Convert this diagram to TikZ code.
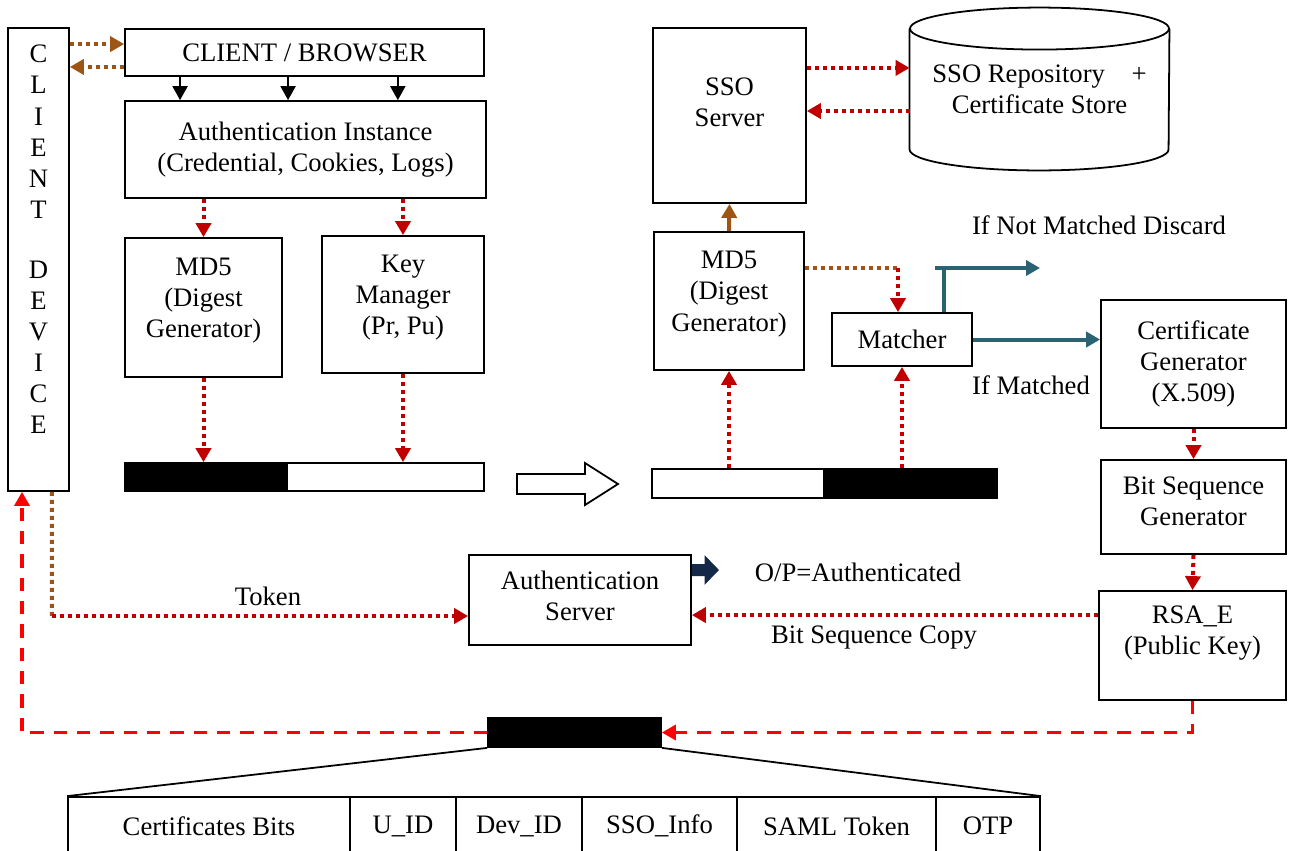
\documentclass[tikz,border=0pt]{standalone}
\usepackage{fontspec}
\setmainfont{Liberation Serif}
\usetikzlibrary{arrows.meta}

\definecolor{darkred}{RGB}{192,0,0}
\definecolor{brownish}{RGB}{158,84,20}
\definecolor{tealline}{RGB}{43,99,114}
\definecolor{navyline}{RGB}{20,40,72}

\begin{document}
\begin{tikzpicture}[x=0.45pt, y=-0.45pt, >={Triangle[length=6.3pt, width=6.8pt]},
  font=\fontsize{12}{14}\selectfont,
  box/.style={draw, thick, align=center, inner sep=0pt},
  bar/.style={draw, thick, fill=black, inner sep=0pt},
  reddot/.style={draw=darkred, line width=1.8pt, dash pattern=on 1.8pt off 1.8pt},
  browndot/.style={draw=brownish, line width=1.8pt, dash pattern=on 1.8pt off 1.8pt},
  reddash/.style={draw=red, line width=1.4pt, dash pattern=on 6pt off 4.5pt},
  tealline/.style={draw=tealline, line width=1.8pt}]

\clip (0,0) rectangle (1293,850);

\node (dev) at (38.5,259.5) [box, minimum width=27.45pt, minimum height=208.35pt] {};
\node (devtxt) at (38.5,239.5) [align=center] {C\\L\\I\\E\\N\\T\\[13pt]D\\E\\V\\I\\C\\E};

\node (browser) at (304.5,52.5) [box, minimum width=161.55pt, minimum height=21.15pt] {CLIENT / BROWSER};
\node (inst) at (305.5,149.5) [box, minimum width=162.45pt, minimum height=43.65pt] {Authentication Instance\\(Credential, Cookies, Logs)};
\node (md5a) at (203.5,307.5) [box, minimum width=70.65pt, minimum height=62.55pt, text depth=8.5pt] {MD5\\(Digest\\Generator)};
\node (keym) at (403,304.5) [box, minimum width=72.9pt, minimum height=61.65pt, text depth=8.5pt] {Key\\Manager\\(Pr, Pu)};

\node (barablk) at (206,477) [bar, minimum width=72.9pt, minimum height=12.6pt] {};
\node (barawht) at (385.5,477) [box, minimum width=88.65pt, minimum height=12.6pt] {};

\draw[thick] (517,474) -- (585,474) -- (585,463) -- (618,484) -- (585,505) -- (585,494) -- (517,494) -- cycle;

\node (barbwht) at (738,483.5) [box, minimum width=77.4pt, minimum height=13.05pt] {};
\node (barbblk) at (910.5,483.5) [bar, minimum width=77.85pt, minimum height=13.05pt] {};

\node (md5b) at (729,301) [box, minimum width=67.5pt, minimum height=62.1pt, text depth=8.8pt] {MD5\\(Digest\\Generator)};
\node (sso) at (729.5,115.5) [box, minimum width=68.85pt, minimum height=78.75pt, text depth=12pt] {SSO\\Server};
\node (repo) at (1039.5,89) [align=center, inner sep=0pt, minimum width=116.55pt, minimum height=54pt] {SSO Repository\quad+\\Certificate Store};
\draw[thick] (repo.north west) -- (repo.south west) arc[start angle=180, end angle=360, x radius=58.275pt, y radius=9.45pt] -- (repo.north east);
\draw[thick] (repo.north) ellipse [x radius=58.275pt, y radius=9.45pt];
\node (matcher) at (902,339.5) [box, minimum width=63pt, minimum height=23.85pt] {Matcher};
\node (certg) at (1193.5,364) [box, minimum width=83.25pt, minimum height=57.6pt] {Certificate\\Generator\\(X.509)};
\node (bitsq) at (1193.5,507) [box, minimum width=83.25pt, minimum height=42.3pt, text depth=5pt] {Bit Sequence\\Generator};
\node (rsae) at (1192.5,645.5) [box, minimum width=84.15pt, minimum height=49.05pt, text depth=14pt] {RSA\_E\\(Public Key)};
\node (authsrv) at (580,600) [box, minimum width=99.9pt, minimum height=40.5pt, text depth=4pt] {Authentication\\Server};
\node (tokbar) at (574.5,732.5) [bar, minimum width=77.85pt, minimum height=13.05pt] {};

\node (cell1) at (209,826) [box, minimum width=126.9pt, minimum height=26.1pt] {Certificates Bits};
\node (cell2) at (403,826) [box, minimum width=47.7pt, minimum height=26.1pt] {U\_ID};
\node (cell3) at (519,826) [box, minimum width=56.7pt, minimum height=26.1pt] {Dev\_ID};
\node (cell4) at (659.5,826) [box, minimum width=69.75pt, minimum height=26.1pt] {SSO\_Info};
\node (cell5) at (836.5,826) [box, minimum width=89.55pt, minimum height=26.1pt] {SAML Token};
\node (cell6) at (988,826) [box, minimum width=46.8pt, minimum height=26.1pt] {OTP};

\node (discard) at (1099,225) {If Not Matched Discard};
\node (matched) at (1031,385) {If Matched};
\node (token) at (268,596) {Token};
\node (copy) at (874,638) {Bit Sequence Copy};
\node (output) at (858,572) {O/P=Authenticated};

\coordinate (mk) at (898,268);
\coordinate (tup) at (944,268);
\coordinate (tleft) at (935,268);
\coordinate (tright) at (1040,268);
\coordinate (tk) at (52,616);
\coordinate (op) at (719,570);
\coordinate (dr) at (1192.5,732.5);
\coordinate (dl) at (22,732.5);

% client side
\path[->] ([yshift=3.8pt]browser.west -| dev.east) edge [browndot] ([yshift=3.8pt]browser.west);
\path[->] ([yshift=-6.5pt]browser.west) edge [browndot] ([yshift=-6.5pt]browser.west -| dev.east);

\path[->] ([xshift=-56pt]browser.south) edge [thick] ([xshift=-56pt]browser.south |- inst.north);
\path[->] ([xshift=-7.4pt]browser.south) edge [thick] ([xshift=-7.4pt]browser.south |- inst.north);
\path[->] ([xshift=42pt]browser.south) edge [thick] ([xshift=42pt]browser.south |- inst.north);

\path[->] (inst.south -| md5a.north) edge [reddot] (md5a.north);
\path[->] (inst.south -| keym.north) edge [reddot] (keym.north);
\path[->] (md5a.south) edge [reddot] (md5a.south |- barablk.north);
\path[->] (keym.south) edge [reddot] (keym.south |- barawht.north);

% server side
\path[->] (md5b.south |- barbwht.north) edge [reddot] (md5b.south);
\path[->] (matcher.south |- barbblk.north) edge [reddot] (matcher.south);
\path[->] (md5b.north) edge [draw=brownish, line width=1.8pt] (sso.south);

\path[->] ([yshift=9.5pt]repo.west -| sso.east) edge [reddot] ([yshift=9.5pt]repo.west);
\path[->] ([yshift=-9.9pt]repo.west) edge [reddot] ([yshift=-9.9pt]repo.west -| sso.east);

\path (md5b.east |- mk) edge [browndot] (mk);
\path[->] (mk) edge [reddot] (mk |- matcher.north);

\path (tup |- matcher.north) edge [tealline] (tup);
\path[->] (tleft) edge [tealline] (tright);
\path[->] (matcher.east) edge [tealline] (matcher.east -| certg.west);

\path[->] (certg.south) edge [reddot] (bitsq.north);
\path[->] (bitsq.south) edge [reddot] (rsae.north);
\path[->] ([yshift=13.7pt]rsae.west) edge [reddot] ([yshift=13.7pt]rsae.west -| authsrv.east);

% token and output
\draw[browndot] ([xshift=6pt]dev.south) -- (tk);
\path[->] (tk) edge [reddot] (tk -| authsrv.west);
\draw[-{Triangle[length=6.5pt, width=13pt]}, draw=navyline, fill=navyline, line width=5.4pt] ([yshift=13.5pt]authsrv.east) -- (op);

\draw[->, reddash] (rsae.south) -- (dr) -- (tokbar.east);
\draw[->, reddash] (tokbar.west) -- (dl) -- (dl |- dev.south);

\draw[thick] (tokbar.south west) -- (cell1.north west);
\draw[thick] (tokbar.south east) -- (cell6.north east);

\end{tikzpicture}
\end{document}
